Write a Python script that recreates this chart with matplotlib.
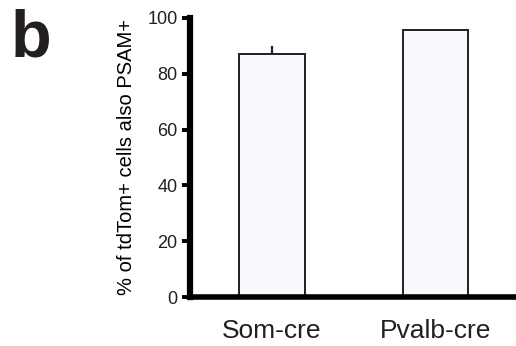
import matplotlib
matplotlib.use("Agg")
import matplotlib.pyplot as plt

categories = ["Som-cre", "Pvalb-cre"]
values = [87.0, 95.7]
errors_up = [3.0, 0.0]
yticks = [0, 20, 40, 60, 80, 100]
ylabel = "% of tdTom+ cells also PSAM+"
panel = "b"

plt.rcParams['font.family'] = ['Liberation Sans', 'DejaVu Sans']
ink = "#231f20"
plt.rcParams['text.color'] = ink
plt.rcParams['xtick.labelcolor'] = ink
plt.rcParams['ytick.labelcolor'] = ink

fig = plt.figure(figsize=(5.16, 3.46), dpi=100)
ax = fig.add_axes([0.368, 0.1416, 0.632, 0.8064])

x = list(range(len(categories)))
ax.bar(x, values, width=0.40, color="#f8f9fc", edgecolor=ink, linewidth=1.4, zorder=2)
ax.errorbar(x[0], values[0], yerr=[[0], [errors_up[0]]], fmt="none", ecolor=ink,
            elinewidth=1.6, capsize=0, zorder=3)

ax.set_xlim(-0.5, 1.49)
ax.set_ylim(0, 100)
ax.set_yticks(yticks)
ax.set_yticklabels([str(t) for t in yticks], fontsize=13)
ax.set_xticks(x)
ax.set_xticklabels(categories, fontsize=19)
ax.tick_params(axis='x', length=0, pad=16)
ax.tick_params(axis='y', length=6, width=2.8, pad=3, color="black")

for s in ["top", "right"]:
    ax.spines[s].set_visible(False)
ax.spines["left"].set_linewidth(4.5)
ax.spines["bottom"].set_linewidth(4)
ax.spines["left"].set_capstyle("projecting")

ax.set_ylabel(ylabel, fontsize=14.5, labelpad=8)
fig.text(0.02, 0.975, panel, fontsize=48, fontweight="bold", va="top", ha="left")

fig.savefig("out.png", dpi=100)
